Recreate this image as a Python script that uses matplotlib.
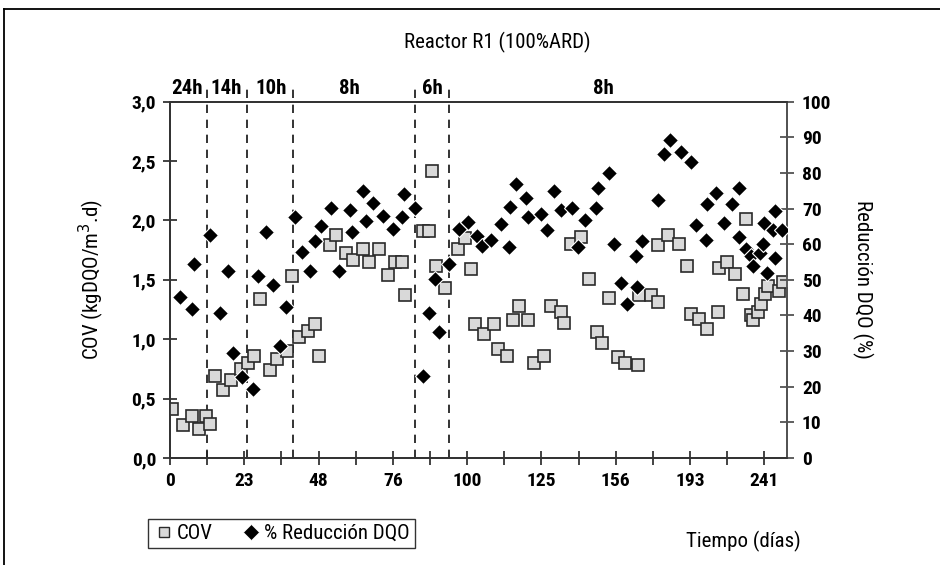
import matplotlib
matplotlib.use("Agg")
import matplotlib.pyplot as plt
from matplotlib.lines import Line2D
from matplotlib import font_manager

available = {f.name for f in font_manager.fontManager.ttflist}
preferred = ['Liberation Sans Narrow', 'DejaVu Sans Condensed', 'Roboto Condensed',
             'Open Sans Condensed', 'Noto Sans Condensed', 'Arial Narrow']
chosen = [f for f in preferred if f in available]
plt.rcParams['font.family'] = chosen + ['DejaVu Sans']
CONDENSED = bool(chosen)

# x positions are in category-axis units (one unit = one sampling slot)
cov_x = [0.37, 2.15, 3.51, 4.73, 5.82, 6.51, 7.27, 8.61, 9.90, 11.47, 12.55, 13.62,
         14.59, 16.20, 17.29, 18.90, 19.79, 20.84, 22.34, 23.42, 24.12, 25.80, 26.87,
         28.43, 29.52, 31.13, 32.15, 33.76, 35.27, 36.35, 37.43, 37.96, 40.92, 41.84,
         42.37, 42.92, 44.47, 46.48, 47.66, 48.63, 49.32, 50.78, 52.39, 52.94, 54.49,
         55.36, 56.43, 57.79, 58.85, 60.42, 61.55, 63.17, 63.70, 64.78, 66.40, 67.69,
         69.03, 69.74, 70.97, 72.33, 73.51, 75.56, 75.77, 77.66, 78.76, 78.79, 80.40,
         82.28, 83.47, 84.17, 85.51, 86.70, 88.48, 88.69, 89.98, 91.28, 92.62, 93.05,
         93.81, 94.23, 94.94, 95.43, 96.12, 96.66, 98.43, 98.98]
cov_y = [0.41, 0.28, 0.35, 0.24, 0.35, 0.29, 0.69, 0.57, 0.66, 0.75, 0.80, 0.86,
         1.34, 0.74, 0.83, 0.90, 1.53, 1.02, 1.07, 1.13, 0.86, 1.79, 1.88,
         1.73, 1.67, 1.76, 1.65, 1.76, 1.54, 1.65, 1.65, 1.37, 1.91, 1.91,
         2.42, 1.62, 1.43, 1.76, 1.85, 1.59, 1.13, 1.04, 1.13, 0.92, 0.86,
         1.16, 1.28, 1.16, 0.80, 0.86, 1.28, 1.23, 1.14, 1.80, 1.86, 1.51,
         1.06, 0.97, 1.35, 0.85, 0.80, 0.78, 1.37, 1.37, 1.31, 1.79, 1.88,
         1.80, 1.62, 1.21, 1.17, 1.09, 1.23, 1.60, 1.65, 1.55, 1.38, 2.01,
         1.20, 1.16, 1.23, 1.30, 1.38, 1.45, 1.41, 1.48]

red_x = [1.62, 3.51, 3.93, 6.46, 8.08, 9.32, 10.13, 11.68, 13.46, 14.14, 15.51, 16.69,
         17.77, 18.74, 20.24, 21.32, 22.62, 23.38, 24.44, 26.01, 27.25, 29.08, 29.48,
         31.18, 31.66, 32.79, 34.46, 35.98, 37.43, 37.84, 39.53, 40.82, 41.89, 42.81,
         43.51, 45.11, 46.61, 48.11, 49.60, 50.44, 51.89, 53.44, 54.81, 54.98, 55.95,
         57.46, 57.84, 59.94, 60.90, 61.99, 63.13, 64.89, 65.96, 67.04, 68.77, 69.19,
         70.95, 71.68, 72.83, 73.91, 75.33, 75.44, 76.20, 78.84, 79.84, 80.84, 82.52,
         84.14, 84.98, 86.54, 86.79, 88.26, 89.58, 90.79, 91.95, 91.95, 93.12, 93.83,
         94.23, 95.32, 95.75, 95.96, 96.37, 97.38, 97.66, 97.74, 98.82]
red_y = [45.3, 41.8, 54.5, 62.6, 40.6, 52.6, 29.4, 22.6, 19.3, 51.2, 63.5, 48.5,
         31.3, 42.5, 67.6, 57.7, 52.4, 60.8, 65.0, 70.2, 52.4, 69.5, 63.3,
         74.9, 66.5, 71.5, 68.0, 64.2, 67.7, 74.2, 70.2, 23.0, 40.6, 50.1,
         35.3, 54.5, 64.4, 66.2, 62.2, 59.5, 61.1, 65.8, 59.2, 70.4, 77.0,
         73.0, 67.7, 68.4, 63.9, 75.0, 69.7, 70.3, 59.2, 66.8, 70.3, 75.8,
         80.0, 60.2, 49.0, 43.1, 56.6, 48.0, 60.8, 72.4, 85.2, 89.2, 85.9,
         83.2, 65.4, 61.2, 71.4, 74.5, 65.9, 71.3, 75.9, 62.1, 58.7, 56.6,
         54.0, 57.5, 60.0, 66.0, 52.0, 64.0, 69.4, 56.0, 64.0]

tick_labels = ['0', '23', '48', '76', '100', '125', '156', '193', '241']
phase_bounds = [5.93, 12.39, 19.82, 39.58, 45.07]
phase_labels = ['24h', '14h', '10h', '8h', '6h', '8h']
phase_centers = [2.75, 9.05, 16.27, 28.92, 42.44, 69.95]

fs_tick = 14 if CONDENSED else 11.5
fs_phase = 15 if CONDENSED else 12
fs_lab = 15 if CONDENSED else 12
fs_title = 15 if CONDENSED else 12.5

W, H = 940, 565
fig = plt.figure(figsize=(W / 100, H / 100), dpi=100)
ax = fig.add_axes([170 / W, 1 - 458 / H, (786.7 - 170) / W, (458 - 101.7) / H])
ax2 = ax.twinx()

ax.set_xlim(0, 99.63)
ax.set_ylim(0, 3.0)
ax2.set_ylim(0, 100)

xt = list(range(0, 99, 6))
ax.set_xticks(xt)
ax.set_xticklabels([tick_labels[i // 2] if i % 2 == 0 else '' for i in range(len(xt))])
ax.set_yticks([0, 0.5, 1.0, 1.5, 2.0, 2.5, 3.0])
ax.set_yticklabels(['0,0', '0,5', '1,0', '1,5', '2,0', '2,5', '3,0'])
ax2.set_yticks(range(0, 101, 10))

for a in (ax, ax2):
    for s in a.spines.values():
        s.set_color('#333333')
        s.set_linewidth(1.3)
ax2.spines['right'].set_color('#555555')

ax.tick_params(axis='both', direction='inout', length=10, width=1.2, color='#222222',
               labelsize=fs_tick, pad=5)
ax.tick_params(axis='x', pad=5)
ax2.tick_params(axis='y', direction='inout', length=10, width=1.2, color='#444444',
                labelsize=fs_tick, pad=6)
for lab in ax.get_xticklabels() + ax.get_yticklabels() + ax2.get_yticklabels():
    lab.set_fontweight('bold')

# phase boundaries
for b in phase_bounds:
    ax.plot([b, b], [0, 3.115], ls=(0, (5, 4)), color='#111111', lw=1.2, clip_on=False, zorder=1)
for c, t in zip(phase_centers, phase_labels):
    ax.text(c, 3.03, t, ha='center', va='bottom', fontsize=fs_phase, fontweight='bold')

ax.plot(cov_x, cov_y, ls='none', marker='s', ms=8.6, mfc='#d9d9d9', mec='#2a2a2a',
        mew=1.2, zorder=3)
ax2.plot(red_x, red_y, ls='none', marker='D', ms=8.6, mfc='black', mec='white',
         mew=0.8, zorder=4)

ax.set_ylabel('COV (kgDQO/m$^3$.d)', fontsize=fs_lab, labelpad=18)
ax2.set_ylabel('Reducción DQO (%)', fontsize=fs_lab, rotation=270, labelpad=30)

fig.text(497 / W, 1 - 42 / H, 'Reactor R1 (100%ARD)', ha='center', va='center', fontsize=fs_title)
fig.text(743 / W, 1 - 541 / H, 'Tiempo (días)', ha='center', va='center', fontsize=fs_lab)

handles = [Line2D([], [], ls='none', marker='s', ms=7.5, mfc='#d9d9d9', mec='#2a2a2a', mew=1),
           Line2D([], [], ls='none', marker='D', ms=8.5, mfc='black', mec='white', mew=0.5)]
leg = fig.legend(handles, ['COV', '% Reducción DQO'], loc='center left',
                 bbox_to_anchor=(148 / W, 1 - 533.5 / H), ncol=2, fontsize=fs_lab,
                 frameon=True, fancybox=False, edgecolor='black', handletextpad=0.15,
                 columnspacing=1.3, handlelength=1.0, borderpad=0.25, borderaxespad=0)
leg.get_frame().set_linewidth(1.0)

# outer chart-area border (top and left visible)
fig.add_artist(Line2D([4 / W, 1.0], [1 - 9 / H, 1 - 9 / H], transform=fig.transFigure,
                      color='black', lw=1.3))
fig.add_artist(Line2D([4 / W, 4 / W], [0, 1 - 9 / H], transform=fig.transFigure,
                      color='black', lw=1.3))

fig.savefig('out.png', dpi=100)
